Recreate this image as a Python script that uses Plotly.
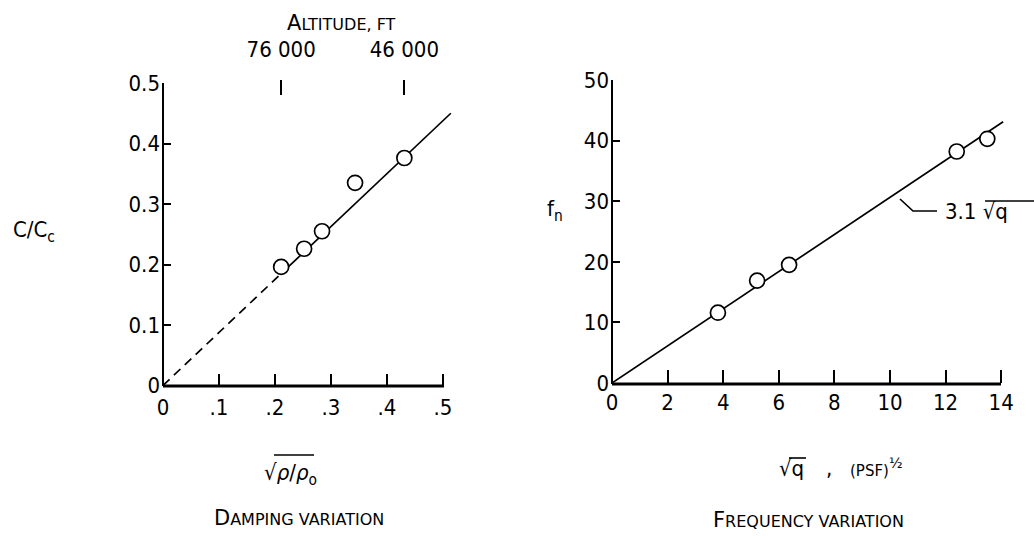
import plotly.graph_objects as go

# ---------------- data ----------------
# Left panel: damping variation
damp_x = [0.211, 0.252, 0.284, 0.343, 0.431]
damp_y = [0.196, 0.226, 0.255, 0.335, 0.376]
damp_dash_x = [0.0, 0.21]
damp_dash_y = [0.0, 0.184]
damp_fit_x = [0.21, 0.514]
damp_fit_y = [0.184, 0.450]
damp_xticks = [0, 0.1, 0.2, 0.3, 0.4, 0.5]
damp_xticklabels = ["0", ".1", ".2", ".3", ".4", ".5"]
damp_yticks = [0, 0.1, 0.2, 0.3, 0.4, 0.5]
damp_yticklabels = ["0", "0.1", "0.2", "0.3", "0.4", "0.5"]
alt_ticks = [0.211, 0.431]
alt_labels = ["76 000", "46 000"]

# Right panel: frequency variation
freq_x = [3.81, 5.22, 6.37, 12.4, 13.5]
freq_y = [11.6, 16.9, 19.5, 38.2, 40.3]
freq_fit_x = [0.0, 14.07]
freq_fit_y = [0.0, 43.1]
freq_xticks = [0, 2, 4, 6, 8, 10, 12, 14]
freq_yticks = [0, 10, 20, 30, 40, 50]

W, H = 1034, 536
FONT = "DejaVu Sans Condensed, Liberation Sans Narrow, DejaVu Sans, sans-serif"
WIDE = "DejaVu Sans, Verdana, sans-serif"
BLACK = "#000000"


def px(x):
    return x / W


def py(y):
    return 1 - y / H


def sc(first, rest, small=16):
    return f"{first}<span style='font-size:{small}px'>{rest}</span>"


fig = go.Figure()

# left panel traces
fig.add_trace(go.Scatter(x=damp_dash_x, y=damp_dash_y, mode="lines",
                         line=dict(color=BLACK, width=1.7, dash="9px,6px"),
                         xaxis="x", yaxis="y", showlegend=False))
fig.add_trace(go.Scatter(x=damp_fit_x, y=damp_fit_y, mode="lines",
                         line=dict(color=BLACK, width=1.7),
                         xaxis="x", yaxis="y", showlegend=False))
fig.add_trace(go.Scatter(x=damp_x, y=damp_y, mode="markers",
                         marker=dict(symbol="circle", size=15, color="white",
                                     line=dict(color=BLACK, width=1.7)),
                         xaxis="x", yaxis="y", showlegend=False, cliponaxis=False))
# carrier trace for the altitude (top) axis
fig.add_trace(go.Scatter(x=alt_ticks, y=[0.45, 0.45], mode="markers",
                         marker=dict(size=1, opacity=0),
                         xaxis="x3", yaxis="y", showlegend=False, hoverinfo="skip"))

# right panel traces
fig.add_trace(go.Scatter(x=freq_fit_x, y=freq_fit_y, mode="lines",
                         line=dict(color=BLACK, width=1.7),
                         xaxis="x2", yaxis="y2", showlegend=False))
fig.add_trace(go.Scatter(x=freq_x, y=freq_y, mode="markers",
                         marker=dict(symbol="circle", size=15, color="white",
                                     line=dict(color=BLACK, width=1.7)),
                         xaxis="x2", yaxis="y2", showlegend=False, cliponaxis=False))

# domains (pixel based)
L_x0, L_x1 = 163, 163 + 0.52 * 560
L_y0, L_y1 = 385.5, 83
R_x0, R_x1 = 612, 612 + 14.1 * 27.8
R_y0, R_y1 = 383, 80

tickfont = dict(family=FONT, size=22, color=BLACK)
common = dict(showgrid=False, zeroline=False, showline=False, automargin=False,
              tickmode="array", tickcolor=BLACK, tickfont=tickfont)

fig.update_layout(
    width=W, height=H,
    margin=dict(l=0, r=0, t=0, b=0, autoexpand=False),
    paper_bgcolor="white", plot_bgcolor="white",
    font=dict(family=FONT, color=BLACK),
    xaxis=dict(domain=[px(L_x0), px(L_x1)], range=[0, 0.52], anchor="y",
               tickvals=damp_xticks, ticktext=damp_xticklabels,
               ticks="inside", ticklen=12, tickwidth=1.5, ticklabelstandoff=6, **common),
    yaxis=dict(domain=[py(L_y0), py(L_y1)], range=[0, 0.5], anchor="x",
               tickvals=damp_yticks, ticktext=damp_yticklabels,
               ticks="inside", ticklen=8, tickwidth=2, ticklabelstandoff=2, **common),
    xaxis3=dict(overlaying="x", side="top", anchor="free", position=py(95),
                range=[0, 0.52], tickvals=alt_ticks, ticktext=alt_labels,
                ticks="outside", ticklen=15, tickwidth=1.5, ticklabelstandoff=14, **common),
    xaxis2=dict(domain=[px(R_x0), px(R_x1)], range=[0, 14.1], anchor="y2",
                tickvals=freq_xticks,
                ticks="inside", ticklen=13, tickwidth=1.5, ticklabelstandoff=4, **common),
    yaxis2=dict(domain=[py(R_y0), py(R_y1)], range=[0, 50], anchor="x2",
                tickvals=freq_yticks,
                ticks="inside", ticklen=8, tickwidth=2, ticklabelstandoff=2, **common),
)

shapes = [
    # left axes
    dict(type="line", xref="paper", yref="paper", x0=px(163), x1=px(163), y0=py(386), y1=py(83),
         line=dict(color=BLACK, width=2)),
    dict(type="line", xref="paper", yref="paper", x0=px(163), x1=px(444), y0=py(386), y1=py(386),
         line=dict(color=BLACK, width=3)),
    # right axes
    dict(type="line", xref="paper", yref="paper", x0=px(612), x1=px(612), y0=py(384), y1=py(80),
         line=dict(color=BLACK, width=2)),
    dict(type="line", xref="paper", yref="paper", x0=px(612), x1=px(1001), y0=py(384), y1=py(384),
         line=dict(color=BLACK, width=3)),
    # leader for 3.1 sqrt(q)
    dict(type="path", xref="paper", yref="paper",
         path=f"M {px(900)} {py(199)} L {px(913)} {py(211)} L {px(937)} {py(211)}",
         line=dict(color=BLACK, width=1.7)),
    # overline for sqrt(q) label
    dict(type="line", xref="paper", yref="paper", x0=px(985), x1=px(1034), y0=py(201), y1=py(201),
         line=dict(color=BLACK, width=1.6)),
    # overline for sqrt(rho/rho0)
    dict(type="line", xref="paper", yref="paper", x0=px(274), x1=px(314), y0=py(455), y1=py(455),
         line=dict(color=BLACK, width=1.6)),
    # overline for sqrt(q) x title
    dict(type="line", xref="paper", yref="paper", x0=px(789), x1=px(806), y0=py(458), y1=py(458),
         line=dict(color=BLACK, width=1.6)),
]
fig.update_layout(shapes=shapes)

ann_font = dict(family=FONT, size=22, color=BLACK)
wide_font = dict(family=WIDE, size=21, color=BLACK)
annotations = [
    dict(text=sc("A", "LTITUDE, FT"), x=px(341), y=py(23), font=wide_font),
    dict(text="C/C<sub>c</sub>", x=px(34), y=py(232)),
    dict(text="√<i>ρ</i>/<i>ρ</i><sub>o</sub>", x=px(290), y=py(474)),
    dict(text=sc("D", "AMPING VARIATION"), x=px(299), y=py(518), font=wide_font),
    dict(text="f<sub>n</sub>", x=px(555), y=py(210)),
    dict(text="3.1 √q", x=px(943), y=py(211), xanchor="left"),
    dict(text="√q", x=px(777), y=py(468), xanchor="left"),
    dict(text=",", x=px(829), y=py(468)),
    dict(text="<span style='font-size:15px'>(PSF)</span><sup>½</sup>", x=px(848), y=py(467),
         xanchor="left", font=dict(family=WIDE, size=20, color=BLACK)),
    dict(text=sc("F", "REQUENCY VARIATION"), x=px(808), y=py(520), font=wide_font),
]
for a in annotations:
    a.setdefault("xanchor", "center")
    a.setdefault("font", ann_font)
    a.update(xref="paper", yref="paper", showarrow=False, yanchor="middle")
fig.update_layout(annotations=annotations)

fig.write_html("out.html", config={"displayModeBar": False},
               post_script="document.body.style.margin='0';document.body.style.padding='0';")
